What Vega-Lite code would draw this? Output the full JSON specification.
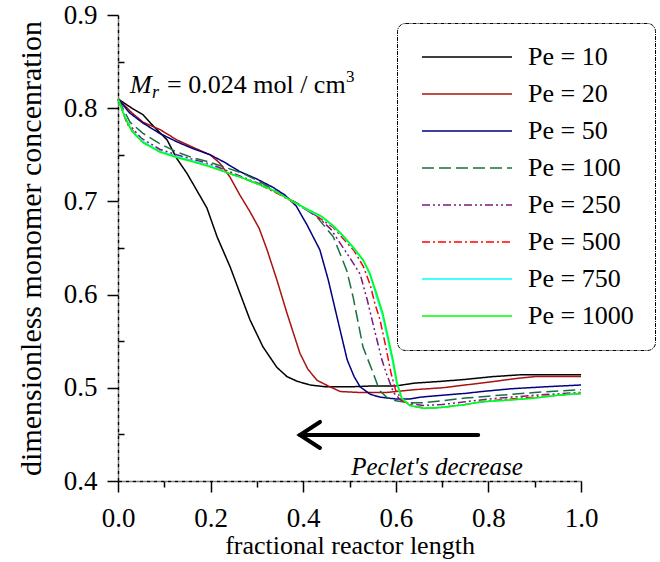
{
  "$schema": "https://vega.github.io/schema/vega-lite/v6.json",
  "autosize": {"type": "none"},
  "width": 463,
  "height": 466,
  "padding": {"left": 118, "top": 15, "right": 79, "bottom": 81},
  "background": "white",
  "config": {
    "view": {"stroke": null},
    "font": "Liberation Serif",
    "axis": {
      "labelFont": "Liberation Serif",
      "titleFont": "Liberation Serif",
      "labelColor": "black",
      "titleColor": "black",
      "labelFontSize": 27,
      "titleFontSize": 26,
      "titleFontWeight": "normal",
      "domainColor": "black",
      "domainWidth": 1.5,
      "domainDash": [4, 1, 1, 1],
      "tickColor": "black",
      "tickWidth": 1.5,
      "grid": false
    },
    "legend": {
      "labelFont": "Liberation Serif",
      "labelFontSize": 26,
      "labelColor": "black",
      "strokeDash": [4, 1, 1, 1]
    }
  },
  "layer": [
    {
      "data": {
        "values": [
          {"pe": "Pe = 10", "x": 0, "y": 0.81}, {"pe": "Pe = 10", "x": 0.03, "y": 0.8}, {"pe": "Pe = 10", "x": 0.054, "y": 0.793}, {"pe": "Pe = 10", "x": 0.076, "y": 0.781}, {"pe": "Pe = 10", "x": 0.106, "y": 0.766}, {"pe": "Pe = 10", "x": 0.127, "y": 0.746}, {"pe": "Pe = 10", "x": 0.149, "y": 0.73}, {"pe": "Pe = 10", "x": 0.17, "y": 0.712}, {"pe": "Pe = 10", "x": 0.192, "y": 0.693}, {"pe": "Pe = 10", "x": 0.214, "y": 0.662}, {"pe": "Pe = 10", "x": 0.242, "y": 0.63}, {"pe": "Pe = 10", "x": 0.263, "y": 0.602}, {"pe": "Pe = 10", "x": 0.285, "y": 0.573}, {"pe": "Pe = 10", "x": 0.313, "y": 0.544}, {"pe": "Pe = 10", "x": 0.343, "y": 0.522}, {"pe": "Pe = 10", "x": 0.365, "y": 0.512}, {"pe": "Pe = 10", "x": 0.387, "y": 0.507}, {"pe": "Pe = 10", "x": 0.415, "y": 0.503}, {"pe": "Pe = 10", "x": 0.45, "y": 0.501}, {"pe": "Pe = 10", "x": 0.5, "y": 0.501}, {"pe": "Pe = 10", "x": 0.55, "y": 0.502}, {"pe": "Pe = 10", "x": 0.6, "y": 0.502}, {"pe": "Pe = 10", "x": 0.64, "y": 0.505}, {"pe": "Pe = 10", "x": 0.7, "y": 0.507}, {"pe": "Pe = 10", "x": 0.75, "y": 0.509}, {"pe": "Pe = 10", "x": 0.81, "y": 0.512}, {"pe": "Pe = 10", "x": 0.87, "y": 0.514}, {"pe": "Pe = 10", "x": 0.92, "y": 0.514}, {"pe": "Pe = 10", "x": 1.0, "y": 0.514},

          {"pe": "Pe = 20", "x": 0, "y": 0.81}, {"pe": "Pe = 20", "x": 0.03, "y": 0.795}, {"pe": "Pe = 20", "x": 0.054, "y": 0.785}, {"pe": "Pe = 20", "x": 0.091, "y": 0.777}, {"pe": "Pe = 20", "x": 0.127, "y": 0.766}, {"pe": "Pe = 20", "x": 0.162, "y": 0.758}, {"pe": "Pe = 20", "x": 0.199, "y": 0.75}, {"pe": "Pe = 20", "x": 0.22, "y": 0.741}, {"pe": "Pe = 20", "x": 0.242, "y": 0.726}, {"pe": "Pe = 20", "x": 0.263, "y": 0.707}, {"pe": "Pe = 20", "x": 0.285, "y": 0.689}, {"pe": "Pe = 20", "x": 0.305, "y": 0.671}, {"pe": "Pe = 20", "x": 0.322, "y": 0.648}, {"pe": "Pe = 20", "x": 0.343, "y": 0.616}, {"pe": "Pe = 20", "x": 0.365, "y": 0.58}, {"pe": "Pe = 20", "x": 0.393, "y": 0.537}, {"pe": "Pe = 20", "x": 0.41, "y": 0.52}, {"pe": "Pe = 20", "x": 0.43, "y": 0.508}, {"pe": "Pe = 20", "x": 0.458, "y": 0.501}, {"pe": "Pe = 20", "x": 0.48, "y": 0.496}, {"pe": "Pe = 20", "x": 0.52, "y": 0.495}, {"pe": "Pe = 20", "x": 0.58, "y": 0.495}, {"pe": "Pe = 20", "x": 0.64, "y": 0.498}, {"pe": "Pe = 20", "x": 0.7, "y": 0.5}, {"pe": "Pe = 20", "x": 0.75, "y": 0.503}, {"pe": "Pe = 20", "x": 0.8, "y": 0.506}, {"pe": "Pe = 20", "x": 0.86, "y": 0.51}, {"pe": "Pe = 20", "x": 0.9, "y": 0.512}, {"pe": "Pe = 20", "x": 1.0, "y": 0.512},

          {"pe": "Pe = 50", "x": 0, "y": 0.81}, {"pe": "Pe = 50", "x": 0.025, "y": 0.795}, {"pe": "Pe = 50", "x": 0.054, "y": 0.784}, {"pe": "Pe = 50", "x": 0.09, "y": 0.773}, {"pe": "Pe = 50", "x": 0.127, "y": 0.764}, {"pe": "Pe = 50", "x": 0.16, "y": 0.757}, {"pe": "Pe = 50", "x": 0.199, "y": 0.75}, {"pe": "Pe = 50", "x": 0.23, "y": 0.742}, {"pe": "Pe = 50", "x": 0.263, "y": 0.732}, {"pe": "Pe = 50", "x": 0.3, "y": 0.724}, {"pe": "Pe = 50", "x": 0.335, "y": 0.715}, {"pe": "Pe = 50", "x": 0.36, "y": 0.707}, {"pe": "Pe = 50", "x": 0.385, "y": 0.695}, {"pe": "Pe = 50", "x": 0.408, "y": 0.675}, {"pe": "Pe = 50", "x": 0.436, "y": 0.648}, {"pe": "Pe = 50", "x": 0.454, "y": 0.616}, {"pe": "Pe = 50", "x": 0.473, "y": 0.576}, {"pe": "Pe = 50", "x": 0.495, "y": 0.53}, {"pe": "Pe = 50", "x": 0.51, "y": 0.512}, {"pe": "Pe = 50", "x": 0.523, "y": 0.501}, {"pe": "Pe = 50", "x": 0.545, "y": 0.493}, {"pe": "Pe = 50", "x": 0.566, "y": 0.49}, {"pe": "Pe = 50", "x": 0.6, "y": 0.488}, {"pe": "Pe = 50", "x": 0.63, "y": 0.488}, {"pe": "Pe = 50", "x": 0.654, "y": 0.49}, {"pe": "Pe = 50", "x": 0.7, "y": 0.492}, {"pe": "Pe = 50", "x": 0.75, "y": 0.494}, {"pe": "Pe = 50", "x": 0.786, "y": 0.496}, {"pe": "Pe = 50", "x": 0.85, "y": 0.499}, {"pe": "Pe = 50", "x": 0.92, "y": 0.501}, {"pe": "Pe = 50", "x": 1.0, "y": 0.503},

          {"pe": "Pe = 100", "x": 0, "y": 0.81}, {"pe": "Pe = 100", "x": 0.026, "y": 0.785}, {"pe": "Pe = 100", "x": 0.054, "y": 0.773}, {"pe": "Pe = 100", "x": 0.09, "y": 0.762}, {"pe": "Pe = 100", "x": 0.127, "y": 0.753}, {"pe": "Pe = 100", "x": 0.16, "y": 0.747}, {"pe": "Pe = 100", "x": 0.199, "y": 0.742}, {"pe": "Pe = 100", "x": 0.235, "y": 0.736}, {"pe": "Pe = 100", "x": 0.27, "y": 0.73}, {"pe": "Pe = 100", "x": 0.31, "y": 0.72}, {"pe": "Pe = 100", "x": 0.35, "y": 0.708}, {"pe": "Pe = 100", "x": 0.39, "y": 0.697}, {"pe": "Pe = 100", "x": 0.43, "y": 0.683}, {"pe": "Pe = 100", "x": 0.465, "y": 0.662}, {"pe": "Pe = 100", "x": 0.494, "y": 0.626}, {"pe": "Pe = 100", "x": 0.508, "y": 0.597}, {"pe": "Pe = 100", "x": 0.529, "y": 0.544}, {"pe": "Pe = 100", "x": 0.551, "y": 0.516}, {"pe": "Pe = 100", "x": 0.565, "y": 0.497}, {"pe": "Pe = 100", "x": 0.58, "y": 0.49}, {"pe": "Pe = 100", "x": 0.6, "y": 0.486}, {"pe": "Pe = 100", "x": 0.63, "y": 0.484}, {"pe": "Pe = 100", "x": 0.66, "y": 0.484}, {"pe": "Pe = 100", "x": 0.7, "y": 0.486}, {"pe": "Pe = 100", "x": 0.75, "y": 0.489}, {"pe": "Pe = 100", "x": 0.8, "y": 0.491}, {"pe": "Pe = 100", "x": 0.85, "y": 0.493}, {"pe": "Pe = 100", "x": 0.9, "y": 0.495}, {"pe": "Pe = 100", "x": 1.0, "y": 0.498},

          {"pe": "Pe = 250", "x": 0, "y": 0.81}, {"pe": "Pe = 250", "x": 0.02, "y": 0.785}, {"pe": "Pe = 250", "x": 0.05, "y": 0.768}, {"pe": "Pe = 250", "x": 0.09, "y": 0.756}, {"pe": "Pe = 250", "x": 0.127, "y": 0.75}, {"pe": "Pe = 250", "x": 0.17, "y": 0.744}, {"pe": "Pe = 250", "x": 0.2, "y": 0.74}, {"pe": "Pe = 250", "x": 0.24, "y": 0.732}, {"pe": "Pe = 250", "x": 0.27, "y": 0.726}, {"pe": "Pe = 250", "x": 0.31, "y": 0.718}, {"pe": "Pe = 250", "x": 0.35, "y": 0.708}, {"pe": "Pe = 250", "x": 0.39, "y": 0.697}, {"pe": "Pe = 250", "x": 0.43, "y": 0.684}, {"pe": "Pe = 250", "x": 0.46, "y": 0.67}, {"pe": "Pe = 250", "x": 0.48, "y": 0.655}, {"pe": "Pe = 250", "x": 0.5, "y": 0.64}, {"pe": "Pe = 250", "x": 0.523, "y": 0.622}, {"pe": "Pe = 250", "x": 0.538, "y": 0.595}, {"pe": "Pe = 250", "x": 0.555, "y": 0.56}, {"pe": "Pe = 250", "x": 0.57, "y": 0.53}, {"pe": "Pe = 250", "x": 0.58, "y": 0.515}, {"pe": "Pe = 250", "x": 0.595, "y": 0.495}, {"pe": "Pe = 250", "x": 0.61, "y": 0.487}, {"pe": "Pe = 250", "x": 0.63, "y": 0.483}, {"pe": "Pe = 250", "x": 0.66, "y": 0.481}, {"pe": "Pe = 250", "x": 0.7, "y": 0.482}, {"pe": "Pe = 250", "x": 0.75, "y": 0.485}, {"pe": "Pe = 250", "x": 0.8, "y": 0.488}, {"pe": "Pe = 250", "x": 0.85, "y": 0.49}, {"pe": "Pe = 250", "x": 0.9, "y": 0.492}, {"pe": "Pe = 250", "x": 1.0, "y": 0.495},

          {"pe": "Pe = 500", "x": 0, "y": 0.81}, {"pe": "Pe = 500", "x": 0.02, "y": 0.783}, {"pe": "Pe = 500", "x": 0.05, "y": 0.765}, {"pe": "Pe = 500", "x": 0.09, "y": 0.754}, {"pe": "Pe = 500", "x": 0.127, "y": 0.748}, {"pe": "Pe = 500", "x": 0.17, "y": 0.742}, {"pe": "Pe = 500", "x": 0.2, "y": 0.738}, {"pe": "Pe = 500", "x": 0.24, "y": 0.73}, {"pe": "Pe = 500", "x": 0.27, "y": 0.725}, {"pe": "Pe = 500", "x": 0.31, "y": 0.717}, {"pe": "Pe = 500", "x": 0.35, "y": 0.707}, {"pe": "Pe = 500", "x": 0.39, "y": 0.696}, {"pe": "Pe = 500", "x": 0.43, "y": 0.684}, {"pe": "Pe = 500", "x": 0.465, "y": 0.672}, {"pe": "Pe = 500", "x": 0.49, "y": 0.658}, {"pe": "Pe = 500", "x": 0.51, "y": 0.647}, {"pe": "Pe = 500", "x": 0.53, "y": 0.63}, {"pe": "Pe = 500", "x": 0.545, "y": 0.61}, {"pe": "Pe = 500", "x": 0.555, "y": 0.59}, {"pe": "Pe = 500", "x": 0.566, "y": 0.573}, {"pe": "Pe = 500", "x": 0.578, "y": 0.545}, {"pe": "Pe = 500", "x": 0.59, "y": 0.515}, {"pe": "Pe = 500", "x": 0.6, "y": 0.497}, {"pe": "Pe = 500", "x": 0.615, "y": 0.486}, {"pe": "Pe = 500", "x": 0.64, "y": 0.48}, {"pe": "Pe = 500", "x": 0.67, "y": 0.478}, {"pe": "Pe = 500", "x": 0.7, "y": 0.479}, {"pe": "Pe = 500", "x": 0.75, "y": 0.482}, {"pe": "Pe = 500", "x": 0.8, "y": 0.486}, {"pe": "Pe = 500", "x": 0.85, "y": 0.488}, {"pe": "Pe = 500", "x": 0.9, "y": 0.49}, {"pe": "Pe = 500", "x": 1.0, "y": 0.494},

          {"pe": "Pe = 750", "x": 0, "y": 0.81}, {"pe": "Pe = 750", "x": 0.015, "y": 0.791}, {"pe": "Pe = 750", "x": 0.03, "y": 0.776}, {"pe": "Pe = 750", "x": 0.054, "y": 0.764}, {"pe": "Pe = 750", "x": 0.09, "y": 0.754}, {"pe": "Pe = 750", "x": 0.127, "y": 0.748}, {"pe": "Pe = 750", "x": 0.165, "y": 0.743}, {"pe": "Pe = 750", "x": 0.199, "y": 0.738}, {"pe": "Pe = 750", "x": 0.235, "y": 0.731}, {"pe": "Pe = 750", "x": 0.27, "y": 0.725}, {"pe": "Pe = 750", "x": 0.3, "y": 0.719}, {"pe": "Pe = 750", "x": 0.335, "y": 0.712}, {"pe": "Pe = 750", "x": 0.37, "y": 0.702}, {"pe": "Pe = 750", "x": 0.408, "y": 0.691}, {"pe": "Pe = 750", "x": 0.44, "y": 0.683}, {"pe": "Pe = 750", "x": 0.465, "y": 0.673}, {"pe": "Pe = 750", "x": 0.485, "y": 0.663}, {"pe": "Pe = 750", "x": 0.508, "y": 0.65}, {"pe": "Pe = 750", "x": 0.53, "y": 0.636}, {"pe": "Pe = 750", "x": 0.544, "y": 0.621}, {"pe": "Pe = 750", "x": 0.557, "y": 0.6}, {"pe": "Pe = 750", "x": 0.571, "y": 0.578}, {"pe": "Pe = 750", "x": 0.583, "y": 0.551}, {"pe": "Pe = 750", "x": 0.593, "y": 0.528}, {"pe": "Pe = 750", "x": 0.602, "y": 0.504}, {"pe": "Pe = 750", "x": 0.612, "y": 0.489}, {"pe": "Pe = 750", "x": 0.63, "y": 0.481}, {"pe": "Pe = 750", "x": 0.66, "y": 0.478}, {"pe": "Pe = 750", "x": 0.7, "y": 0.479}, {"pe": "Pe = 750", "x": 0.75, "y": 0.482}, {"pe": "Pe = 750", "x": 0.786, "y": 0.485}, {"pe": "Pe = 750", "x": 0.85, "y": 0.487}, {"pe": "Pe = 750", "x": 0.9, "y": 0.489}, {"pe": "Pe = 750", "x": 0.95, "y": 0.492}, {"pe": "Pe = 750", "x": 1.0, "y": 0.494},

          {"pe": "Pe = 1000", "x": 0, "y": 0.81}, {"pe": "Pe = 1000", "x": 0.015, "y": 0.79}, {"pe": "Pe = 1000", "x": 0.03, "y": 0.775}, {"pe": "Pe = 1000", "x": 0.054, "y": 0.763}, {"pe": "Pe = 1000", "x": 0.09, "y": 0.753}, {"pe": "Pe = 1000", "x": 0.127, "y": 0.747}, {"pe": "Pe = 1000", "x": 0.165, "y": 0.742}, {"pe": "Pe = 1000", "x": 0.199, "y": 0.737}, {"pe": "Pe = 1000", "x": 0.235, "y": 0.731}, {"pe": "Pe = 1000", "x": 0.27, "y": 0.725}, {"pe": "Pe = 1000", "x": 0.3, "y": 0.719}, {"pe": "Pe = 1000", "x": 0.335, "y": 0.712}, {"pe": "Pe = 1000", "x": 0.37, "y": 0.702}, {"pe": "Pe = 1000", "x": 0.408, "y": 0.692}, {"pe": "Pe = 1000", "x": 0.44, "y": 0.684}, {"pe": "Pe = 1000", "x": 0.465, "y": 0.674}, {"pe": "Pe = 1000", "x": 0.485, "y": 0.664}, {"pe": "Pe = 1000", "x": 0.508, "y": 0.651}, {"pe": "Pe = 1000", "x": 0.53, "y": 0.637}, {"pe": "Pe = 1000", "x": 0.544, "y": 0.623}, {"pe": "Pe = 1000", "x": 0.558, "y": 0.602}, {"pe": "Pe = 1000", "x": 0.572, "y": 0.58}, {"pe": "Pe = 1000", "x": 0.584, "y": 0.553}, {"pe": "Pe = 1000", "x": 0.594, "y": 0.53}, {"pe": "Pe = 1000", "x": 0.603, "y": 0.505}, {"pe": "Pe = 1000", "x": 0.613, "y": 0.489}, {"pe": "Pe = 1000", "x": 0.63, "y": 0.481}, {"pe": "Pe = 1000", "x": 0.66, "y": 0.478}, {"pe": "Pe = 1000", "x": 0.7, "y": 0.479}, {"pe": "Pe = 1000", "x": 0.75, "y": 0.482}, {"pe": "Pe = 1000", "x": 0.786, "y": 0.485}, {"pe": "Pe = 1000", "x": 0.85, "y": 0.487}, {"pe": "Pe = 1000", "x": 0.9, "y": 0.489}, {"pe": "Pe = 1000", "x": 0.95, "y": 0.492}, {"pe": "Pe = 1000", "x": 1.0, "y": 0.494}
        ]
      },
      "mark": {"type": "line", "strokeCap": "butt"},
      "encoding": {
        "x": {
          "field": "x", "type": "quantitative",
          "scale": {"domain": [0, 1], "nice": false, "zero": false},
          "axis": {
            "title": "fractional reactor length",
            "values": [0, 0.1, 0.2, 0.3, 0.4, 0.5, 0.6, 0.7, 0.8, 0.9, 1.0],
            "labelExpr": "round(datum.value*10)%2==1 ? '' : format(datum.value, '.1f')",
            "tickSize": {"condition": {"test": "round(datum.value*10)%2==1", "value": 6}, "value": 11},
            "labelPadding": 13,
            "titlePadding": 1,
            "labelFlush": false,
            "labelOverlap": false
          }
        },
        "y": {
          "field": "y", "type": "quantitative",
          "scale": {"domain": [0.4, 0.9], "nice": false, "zero": false},
          "axis": {
            "title": "dimensionless monomer concenration",
            "titleFontSize": 30,
            "values": [0.4, 0.45, 0.5, 0.55, 0.6, 0.65, 0.7, 0.75, 0.8, 0.85, 0.9],
            "labelExpr": "round(datum.value*20)%2==1 ? '' : format(datum.value, '.1f')",
            "tickSize": {"condition": {"test": "round(datum.value*20)%2==1", "value": -6}, "value": 11},
            "labelPadding": 10,
            "titlePadding": 17,
            "labelFlush": false,
            "labelOverlap": false
          }
        },
        "color": {
          "field": "pe", "type": "nominal",
          "scale": {
            "domain": ["Pe = 10", "Pe = 20", "Pe = 50", "Pe = 100", "Pe = 250", "Pe = 500", "Pe = 750", "Pe = 1000"],
            "range": ["#000000", "#aa1111", "#000080", "#1a7040", "#7a1a80", "#ff0000", "#00ffff", "#00ff00"]
          },
          "legend": {
            "title": null,
            "orient": "none",
            "legendX": 279,
            "legendY": 8,
            "symbolType": "M-1,0H9",
            "symbolSize": 324,
            "symbolStrokeWidth": 2,
            "labelOffset": 84,
            "rowPadding": 11,
            "padding": 21,
            "strokeColor": "black",
            "cornerRadius": 8,
            "fillColor": "white",
            "labelLimit": 300
          }
        },
        "strokeDash": {
          "field": "pe", "type": "nominal",
          "scale": {
            "domain": ["Pe = 10", "Pe = 20", "Pe = 50", "Pe = 100", "Pe = 250", "Pe = 500", "Pe = 750", "Pe = 1000"],
            "range": [[1, 0], [1, 0], [1, 0], [12, 5], [8, 3, 2, 3, 2, 3], [8, 3, 2, 3], [1, 0], [1, 0]]
          },
          "legend": null
        },
        "strokeWidth": {
          "field": "pe", "type": "nominal",
          "scale": {
            "domain": ["Pe = 10", "Pe = 20", "Pe = 50", "Pe = 100", "Pe = 250", "Pe = 500", "Pe = 750", "Pe = 1000"],
            "range": [1.5, 1.5, 1.5, 2, 2, 2, 1.5, 2.5]
          },
          "legend": null
        }
      }
    },
    {
      "data": {"values": [{"x": 0.026, "y": 0.8163}]},
      "mark": {"type": "text", "text": "M", "font": "Liberation Serif", "fontStyle": "italic", "fontSize": 26, "align": "left", "baseline": "alphabetic", "color": "black"},
      "encoding": {"x": {"field": "x", "type": "quantitative"}, "y": {"field": "y", "type": "quantitative"}}
    },
    {
      "data": {"values": [{"x": 0.026, "y": 0.8163}]},
      "mark": {"type": "text", "text": "r", "font": "Liberation Serif", "fontStyle": "italic", "fontSize": 18, "align": "left", "baseline": "alphabetic", "dx": 22, "dy": 5, "color": "black"},
      "encoding": {"x": {"field": "x", "type": "quantitative"}, "y": {"field": "y", "type": "quantitative"}}
    },
    {
      "data": {"values": [{"x": 0.026, "y": 0.8163}]},
      "mark": {"type": "text", "text": "= 0.024 mol / cm", "font": "Liberation Serif", "fontSize": 26, "align": "left", "baseline": "alphabetic", "dx": 37, "color": "black"},
      "encoding": {"x": {"field": "x", "type": "quantitative"}, "y": {"field": "y", "type": "quantitative"}}
    },
    {
      "data": {"values": [{"x": 0.026, "y": 0.8163}]},
      "mark": {"type": "text", "text": "3", "font": "Liberation Serif", "fontSize": 17, "align": "left", "baseline": "alphabetic", "dx": 216, "dy": -11, "color": "black"},
      "encoding": {"x": {"field": "x", "type": "quantitative"}, "y": {"field": "y", "type": "quantitative"}}
    },
    {
      "data": {"values": [{"x": 0.393, "x2": 0.778, "y": 0.4494}]},
      "mark": {"type": "rule", "strokeWidth": 4, "strokeCap": "round", "color": "black"},
      "encoding": {"x": {"field": "x", "type": "quantitative"}, "x2": {"field": "x2"}, "y": {"field": "y", "type": "quantitative"}}
    },
    {
      "data": {"values": [{"x": 0.393, "y": 0.4494}]},
      "mark": {"type": "point", "shape": "M1,-0.65L0,0L1,0.65", "size": 1600, "filled": false, "strokeWidth": 4, "strokeCap": "round", "strokeJoin": "miter", "color": "black", "opacity": 1},
      "encoding": {"x": {"field": "x", "type": "quantitative"}, "y": {"field": "y", "type": "quantitative"}}
    },
    {
      "data": {"values": [{"x": 0.689, "y": 0.4064, "t": "Peclet's decrease"}]},
      "mark": {"type": "text", "font": "Liberation Serif", "fontStyle": "italic", "fontSize": 25, "align": "center", "baseline": "alphabetic", "color": "black"},
      "encoding": {"x": {"field": "x", "type": "quantitative"}, "y": {"field": "y", "type": "quantitative"}, "text": {"field": "t"}}
    }
  ]
}
